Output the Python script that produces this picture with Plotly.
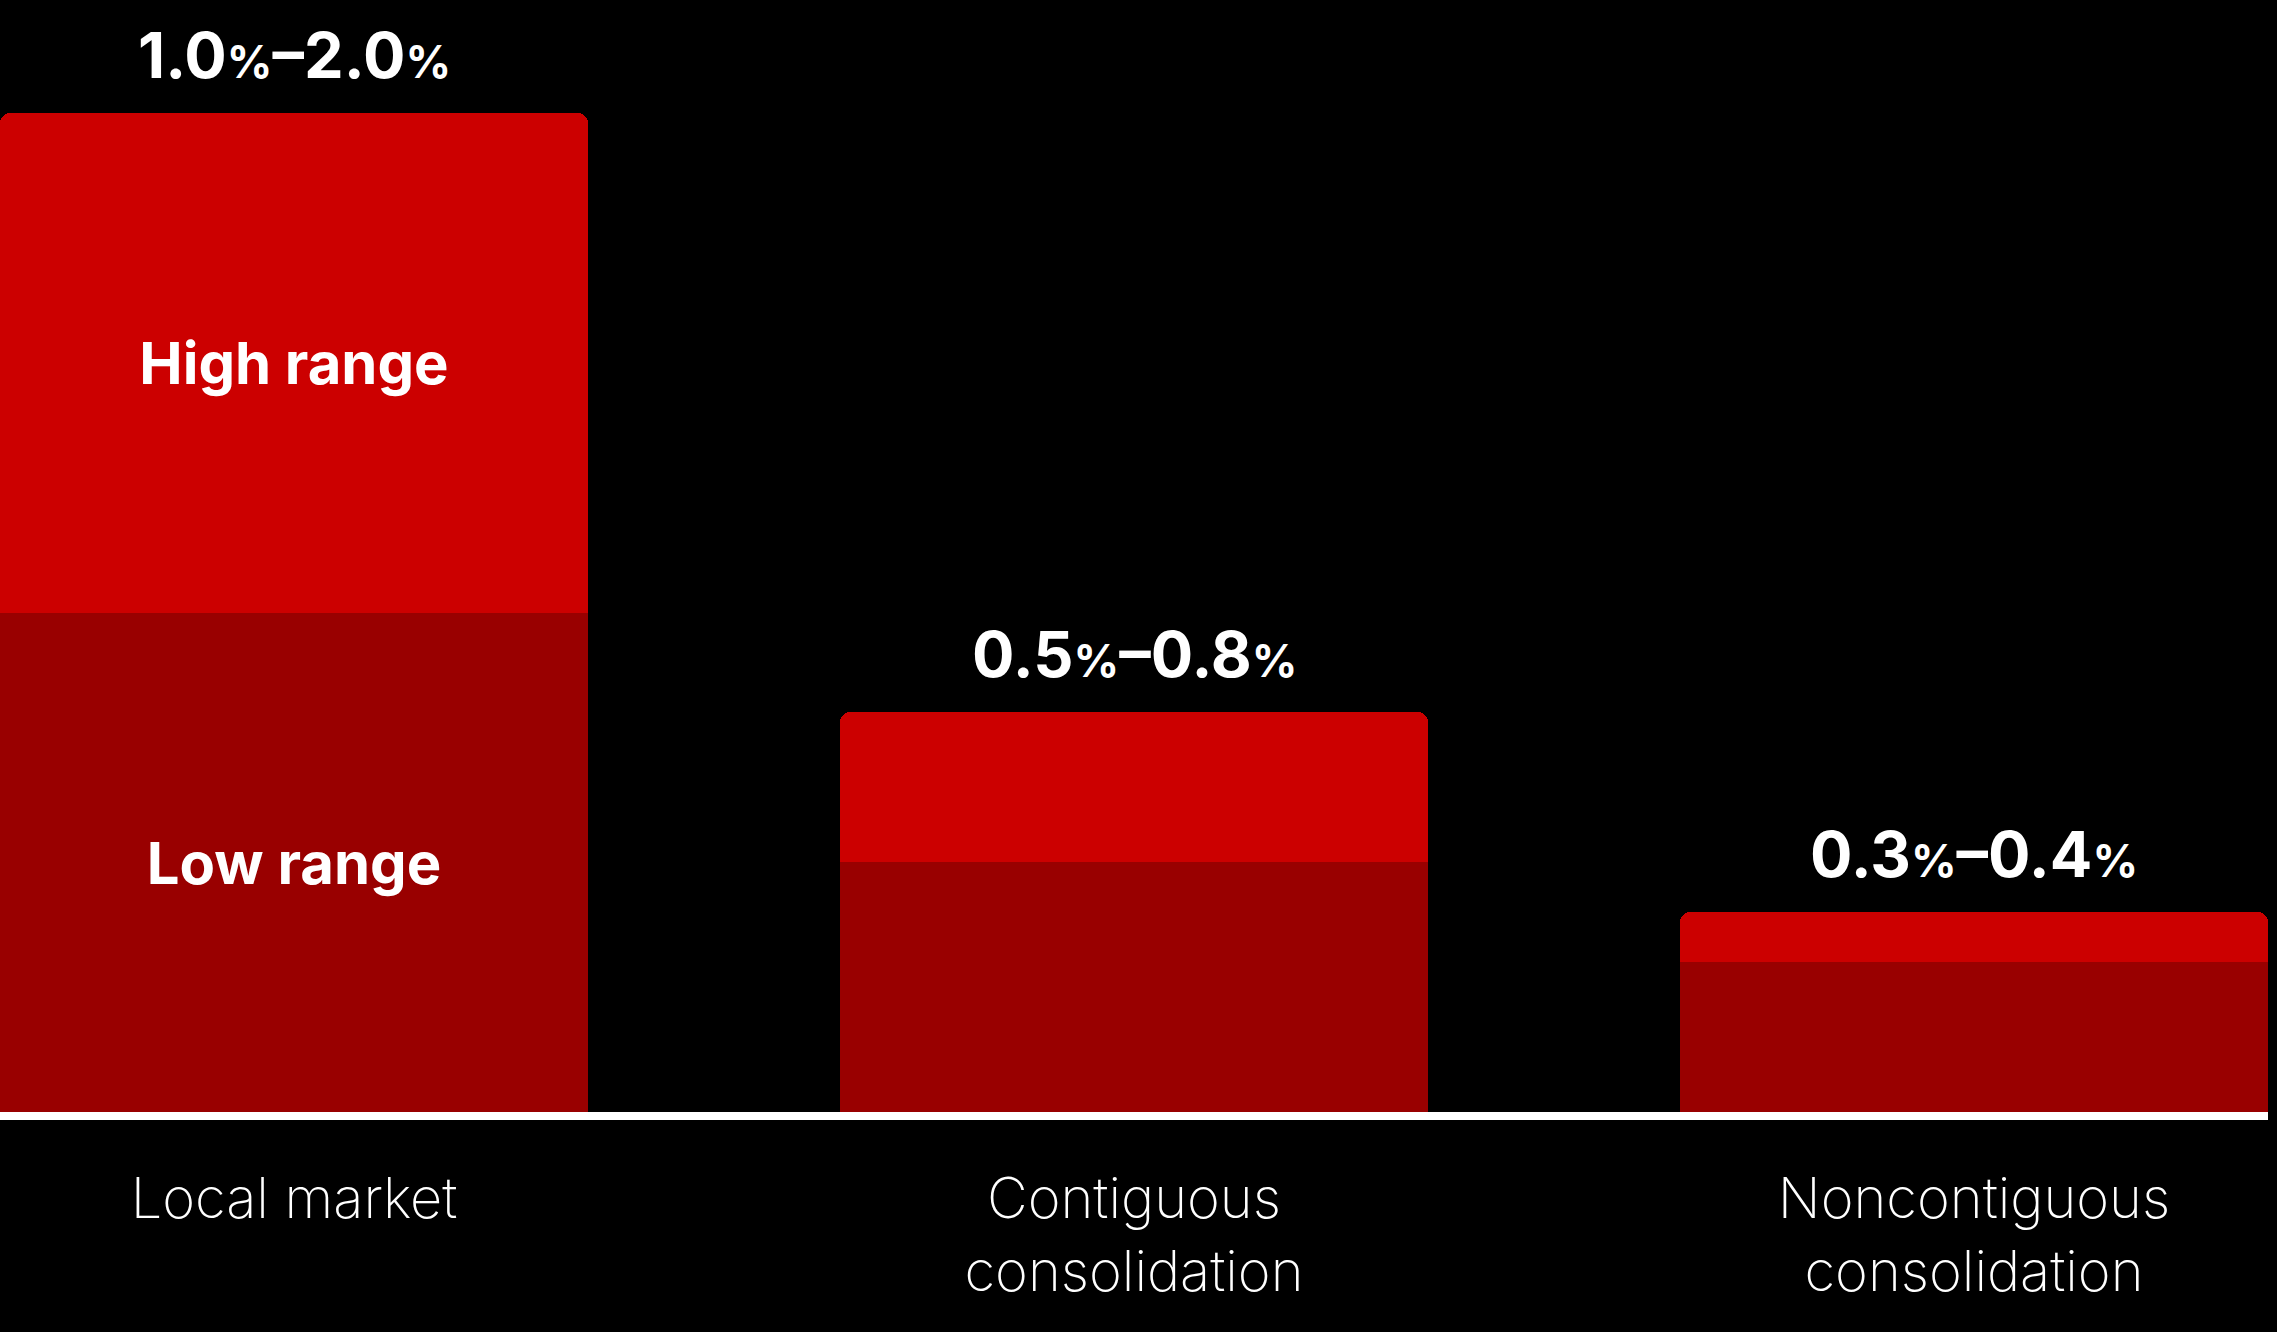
import plotly.graph_objects as go

categories = ["Local market", "Contiguous<br>consolidation", "Noncontiguous<br>consolidation"]
low_values = [1.0, 0.5, 0.3]
high_values = [2.0, 0.8, 0.4]
low_labels = ["Low range", "", ""]
high_labels = ["High range", "", ""]

high_increment = [h - l for h, l in zip(high_values, low_values)]

LOW_COLOR = "#990000"
HIGH_COLOR = "#CC0000"
FONT = "Inter, Roboto, sans-serif"
BOLD = dict(family=FONT, color="white", weight="bold")

fig = go.Figure()
fig.add_trace(go.Bar(
    x=categories, y=low_values, marker=dict(color=LOW_COLOR, line=dict(width=0)),
    text=low_labels, textposition="inside", insidetextanchor="middle", textangle=0,
    insidetextfont=dict(size=58, **BOLD), width=0.70, hoverinfo="skip",
))
fig.add_trace(go.Bar(
    x=categories, y=high_increment, marker=dict(color=HIGH_COLOR, line=dict(width=0)),
    text=high_labels, textposition="inside", insidetextanchor="middle", textangle=0,
    insidetextfont=dict(size=58, **BOLD), width=0.70, hoverinfo="skip",
))

def pct(v):
    return f"{v:.1f}<span style='font-size:45px'>%</span>"

for c, lo, hi in zip(categories, low_values, high_values):
    fig.add_annotation(
        x=c, y=hi, xref="x", yref="y", yanchor="bottom", yshift=18,
        text=f"<b>{pct(lo)}–{pct(hi)}</b>", showarrow=False,
        font=dict(size=63, family=FONT, color="white"),
    )

fig.update_layout(
    width=2277, height=1332,
    margin=dict(l=0, r=9, t=0, b=220),
    paper_bgcolor="black", plot_bgcolor="black",
    barmode="stack", barcornerradius=10, bargap=0,
    showlegend=False,
    xaxis=dict(
        type="category", range=[-0.35, 2.35], showgrid=False, zeroline=False,
        showline=True, linecolor="white", linewidth=8, ticks="",
        tickfont=dict(family=FONT, size=56, color="white", weight=200),
        ticklabelstandoff=31,
    ),
    yaxis=dict(range=[0, 1112 / 499.5], visible=False, showgrid=False, zeroline=False),
)

fig.write_html("out.html")
